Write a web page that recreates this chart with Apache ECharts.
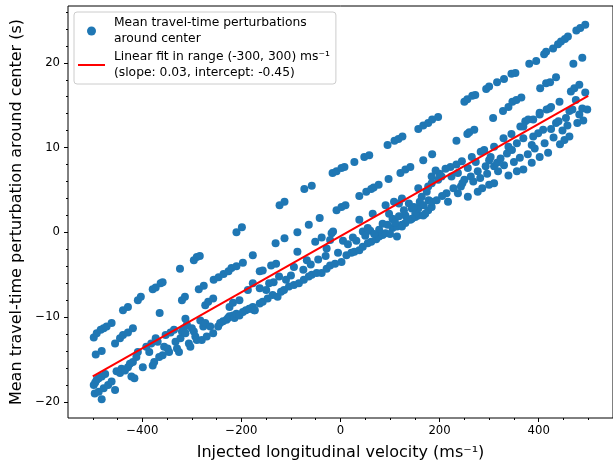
<!DOCTYPE html>
<html><head><meta charset="utf-8">
<script src="https://cdn.jsdelivr.net/npm/echarts@6/dist/echarts.min.js"></script>
<style>html,body{margin:0;padding:0;background:#fff}#c{width:613px;height:467px}</style>
</head><body><div id="c"></div>
<script>
// Upper band
const bandTop = [
[-498,-12.4],[-492,-11.9],[-484,-11.5],[-478,-11.3],[-472,-11.1],[-462,-10.7],
[-439,-9.2],[-429,-8.8],[-409,-8.0],[-403,-7.6],[-379,-6.7],[-373,-6.5],[-363,-6.0],[-359,-5.9],
[-324,-4.3],[-296,-3.3],[-290,-2.9],[-284,-2.8],[-210,0.0],[-199,0.6],
[-123,3.2],[-113,3.6],[-73,5.1],[-58,5.5],[-16,7.0],[-8,7.2],[2,7.6],[8,7.7],[28,8.3],
[48,8.9],[58,9.1],[95,10.3],[109,10.8],[117,11.0],[125,11.3],[157,12.2],[167,12.6],[177,12.9],
[185,13.3],[197,13.6],[250,15.4],[256,15.7],[266,16.1],[272,16.2],[294,16.9],[300,17.2],
[316,17.7],[330,18.1],[345,18.7],[353,18.8],[381,19.9],[395,20.2],[411,21.0],[415,21.3],
[429,21.7],[439,22.2],[445,22.5],[453,22.8],[459,23.1],[476,23.8],[484,24.1],[494,24.5]
];
// Second band
const bandSecond = [
[-494,-14.4],[-482,-14.0],[-455,-13.1],[-445,-12.5],[-439,-12.1],[-429,-11.8],[-419,-11.3],
[-365,-9.5],[-320,-8.0],[-314,-7.6],[-286,-6.7],[-276,-6.3],[-256,-5.6],[-246,-5.3],[-236,-4.9],
[-226,-4.6],[-220,-4.2],[-210,-4.0],[-197,-3.6],[-177,-2.7],[-131,-1.3],[-113,-0.7],[-87,0.0],
[-64,0.9],[-42,1.7],[-8,2.6],[2,3.0],[10,3.2],[38,4.3],[52,4.8],[62,5.1],[67,5.3],[77,5.6],
[97,6.3],[121,7.0],[131,7.4],[141,7.7],[167,8.5],[185,9.2],[234,10.8],[256,11.6],[260,11.8],
[270,12.1],[308,13.5],[328,14.3],[339,14.8],[347,15.4],[355,15.6],[365,15.9],[403,17.0],
[415,17.6],[423,17.7],[435,18.3],[470,19.9],[488,20.6]
];
// Dense lower bands, negative velocities
const bandDenseLeft = [
[-498,-18.0],[-495,-17.7],[-492,-17.4],[-488,-17.2],[-482,-17.0],[-475,-16.7],[-496,-19.0],
[-488,-18.8],[-482,-19.7],[-478,-18.4],[-469,-18.0],[-462,-17.6],[-455,-18.6],[-452,-16.4],
[-445,-16.6],[-442,-16.1],[-435,-16.3],[-429,-15.9],[-425,-15.5],[-419,-15.3],[-422,-17.0],
[-416,-17.2],[-412,-14.7],[-409,-14.1],[-399,-15.9],[-392,-13.5],[-386,-14.1],[-382,-13.1],
[-379,-15.7],[-376,-15.3],[-373,-12.5],[-369,-12.9],[-366,-14.7],[-359,-14.5],[-356,-13.5],
[-353,-12.1],[-349,-13.7],[-346,-14.1],[-343,-11.8],[-336,-11.5],[-333,-12.9],[-330,-13.7],
[-326,-14.1],[-323,-12.5],[-320,-11.7],[-316,-11.3],[-313,-11.9],[-310,-10.9],[-306,-13.1],
[-303,-13.5],[-300,-11.3],[-296,-11.7],[-293,-12.3],[-290,-12.7],[-283,-10.4],[-280,-12.7],
[-277,-11.1],[-273,-10.7],[-270,-12.3],[-263,-11.1],[-257,-11.9],[-247,-11.1],[-243,-10.7],
[-237,-10.5],[-230,-10.3],[-227,-10.1],[-224,-9.9],[-217,-9.8],[-214,-10.1],[-210,-9.6],
[-204,-9.8],[-197,-9.4],[-191,-9.2],[-184,-9.0],[-177,-8.8],[-174,-9.2],
[-313,-10.2],[-273,-8.6],[-267,-8.2],[-257,-7.8],[-224,-8.8],[-217,-8.3],[-204,-8.0],
[-187,-6.8],[-177,-6.0]
];
// Dense lower bands, central velocities
const bandDenseMid = [
[-183,-9.0],[-173,-9.2],[-163,-8.4],[-157,-8.2],[-147,-7.8],[-137,-7.4],[-127,-7.6],[-120,-7.0],
[-114,-6.8],[-104,-6.4],[-94,-6.2],[-84,-6.0],[-74,-5.6],[-64,-5.2],[-58,-5.0],[-48,-4.8],
[-38,-4.8],[-28,-4.3],[-21,-3.9],[-11,-3.7],[2,-3.5],[12,-2.7],[22,-2.4],[28,-2.3],[38,-2.1],
[45,-1.7],[55,-1.3],[62,-1.1],[72,-0.8],[78,-0.5],[85,-0.3],[91,-0.1],[105,0.5],[114,0.7],
[124,0.9],[131,1.1],[141,1.5],[151,1.8],[157,2.0],[167,2.0],[177,2.6],[184,3.0],
[-163,-6.6],[-144,-6.0],[-124,-5.2],[-163,-4.6],[-157,-4.5],[-140,-3.9],[-130,-3.7],[-94,-4.1],
[-87,-2.3],[-68,-3.3],[-51,-1.1],[-38,-0.6],[-28,-1.9],[-18,-0.1],[-15,0.1],[-21,-0.9],
[38,1.5],[45,0.1],[55,0.5],[65,2.2],[78,0.3],[91,3.2],[98,2.2],[108,3.6],[118,3.4],[124,4.0],
[138,3.4],[144,2.8],[151,2.2],[157,2.8],[157,5.2],[164,4.2],[174,4.8],[184,5.8],[124,0.7],
[114,-0.5],[105,1.6],[131,2.0],[144,1.6],[171,2.2],
[5,-1.0],[15,-1.4],[25,-0.6],[32,-1.0],[50,-0.4],[60,0.2],[68,-0.2],[85,1.0],[95,0.9],
[100,-0.2],[110,1.2],[118,1.9],[128,2.6],[135,1.5],[148,3.0],[160,3.6],[168,3.2],[178,3.8],
[-5,-2.4],[-30,-2.8],[-45,-3.2],[-60,-3.8],[-75,-4.4],[-100,-5.1],[-110,-5.6],[-135,-5.9],[-150,-6.8]
];
// Dense lower bands, positive velocities
const bandDenseRight = [
[184,3.6],[194,3.8],[217,3.6],[237,4.6],[257,4.2],[277,4.8],[286,5.2],[300,5.6],[310,5.8],
[339,6.7],[356,7.2],[369,7.4],[386,8.2],[402,8.9],[419,9.4],[443,10.4],[452,10.9],[462,11.3],
[177,5.4],[184,6.6],[197,6.2],[204,6.6],[214,4.6],[224,6.6],[234,8.0],[237,7.0],[243,5.4],
[250,6.2],[257,7.6],[263,6.6],[273,8.3],[277,7.2],[283,9.5],[290,9.7],[293,7.8],[300,8.5],
[303,8.9],[310,7.8],[316,8.2],[323,8.7],[329,11.1],[336,9.3],[339,10.1],[346,9.7],[356,10.5],
[363,12.5],[369,11.1],[373,13.1],[379,13.3],[386,10.3],[389,11.3],[399,11.7],[409,12.1],
[402,14.1],[416,14.5],[425,14.8],[435,12.9],[442,15.4],[455,13.5],[462,14.3],[468,14.5],
[475,15.6],[482,13.9],[488,14.6],[498,14.5],
[465,16.6],[472,17.0],[482,17.4],[494,16.5],[369,12.5],[389,13.3],[402,13.9],[422,14.6],
[205,4.3],[228,5.2],[246,5.8],[268,6.0],[282,6.4],[296,6.9],[318,7.2],[330,7.9],[350,8.3],
[362,8.8],[378,9.2],[392,9.9],[412,10.5],[430,11.2],[448,12.0],[458,12.6],[478,12.9],[490,13.2],
[440,13.1],[425,12.2],[345,11.6],[310,10.1],[265,8.9],[245,8.4],[222,7.7],[200,6.9],[192,7.3],[212,7.5]
];
const fitX = [-500, 500];
const fitY = [-17.0, 16.1];
const xTicks = [-400, -200, 0, 200, 400];
const xMinorTicks = [-500,-450,-350,-300,-250,-150,-100,-50,50,100,150,250,300,350,450,500];
const yTicks = [-20, -10, 0, 10, 20];
const yMinorTicks = [-18,-16,-14,-12,-8,-6,-4,-2,2,4,6,8,12,14,16,18,22,24,26];

const scatterName = 'Mean travel-time perturbations\naround center';
const fitName = 'Linear fit in range (-300, 300) ms\u207B\u00B9\n(slope: 0.03, intercept: -0.45)';
const points = [].concat(bandTop, bandSecond, bandDenseLeft, bandDenseMid, bandDenseRight);
const fitLine = fitX.map((x, i) => [x, fitY[i]]);
const fmt = v => String(v).replace('-', '\u2212');
const FONT = 'DejaVu Sans';
const XMIN = -550, XMAX = 550, YMIN = -21.9, YMAX = 26.7;
const noLine = {show: false, onZero: false};

const chart = echarts.init(document.getElementById('c'), null, {renderer: 'canvas'});
chart.setOption({
  animation: false,
  backgroundColor: '#fff',
  grid: {left: 68, top: 6, right: -9, bottom: 49, show: true, borderColor: '#000', borderWidth: 1, backgroundColor: 'transparent'},
  legend: {
    orient: 'vertical', left: 74, top: 12,
    padding: [3, 6, 3, 4], itemGap: 2, itemWidth: 27, itemHeight: 9,
    backgroundColor: 'rgba(255,255,255,0.85)', borderColor: '#cccccc', borderWidth: 1, borderRadius: 3,
    textStyle: {fontFamily: FONT, fontSize: 12.3, color: '#000', lineHeight: 16, padding: [0,0,0,4]},
    data: [{name: scatterName, icon: 'circle'}, {name: fitName, icon: 'path://M0 0H27V2H0Z'}]
  },
  xAxis: [{
    type: 'value', min: XMIN, max: XMAX,
    name: 'Injected longitudinal velocity (ms\u207B\u00B9)', nameLocation: 'middle', nameGap: 27,
    nameTextStyle: {fontFamily: FONT, fontSize: 16, color: '#000'},
    axisLine: noLine,
    axisTick: {show: true, inside: false, length: 4, customValues: xTicks, lineStyle: {color: '#000', width: 1}},
    axisLabel: {customValues: xTicks, formatter: fmt, fontFamily: FONT, fontSize: 11.7, color: '#000', margin: 7},
    splitLine: {show: false}
  }, {
    type: 'value', min: XMIN, max: XMAX, position: 'bottom',
    axisLine: noLine,
    axisTick: {show: true, inside: false, length: 2, customValues: xMinorTicks, lineStyle: {color: '#000', width: 1}},
    axisLabel: {show: false}, splitLine: {show: false}
  }],
  yAxis: [{
    type: 'value', min: YMIN, max: YMAX,
    name: 'Mean travel-time perturbation around center (s)', nameLocation: 'middle', nameGap: 38,
    nameTextStyle: {fontFamily: FONT, fontSize: 16, color: '#000'},
    axisLine: noLine,
    axisTick: {show: true, inside: false, length: 4, customValues: yTicks, lineStyle: {color: '#000', width: 1}},
    axisLabel: {customValues: yTicks, formatter: fmt, fontFamily: FONT, fontSize: 11.7, color: '#000', margin: 8},
    splitLine: {show: false}
  }, {
    type: 'value', min: YMIN, max: YMAX, position: 'left',
    axisLine: noLine,
    axisTick: {show: true, inside: false, length: 2, customValues: yMinorTicks, lineStyle: {color: '#000', width: 1}},
    axisLabel: {show: false}, splitLine: {show: false}
  }],
  series: [{
    name: scatterName, type: 'scatter', data: points, symbolSize: 8,
    itemStyle: {color: '#1f77b4', opacity: 1}, z: 2
  }, {
    name: fitName, type: 'line', data: fitLine, symbol: 'none', showSymbol: false,
    lineStyle: {color: '#ff0000', width: 2}, itemStyle: {color: '#ff0000'}, z: 3
  }]
});
</script></body></html>
